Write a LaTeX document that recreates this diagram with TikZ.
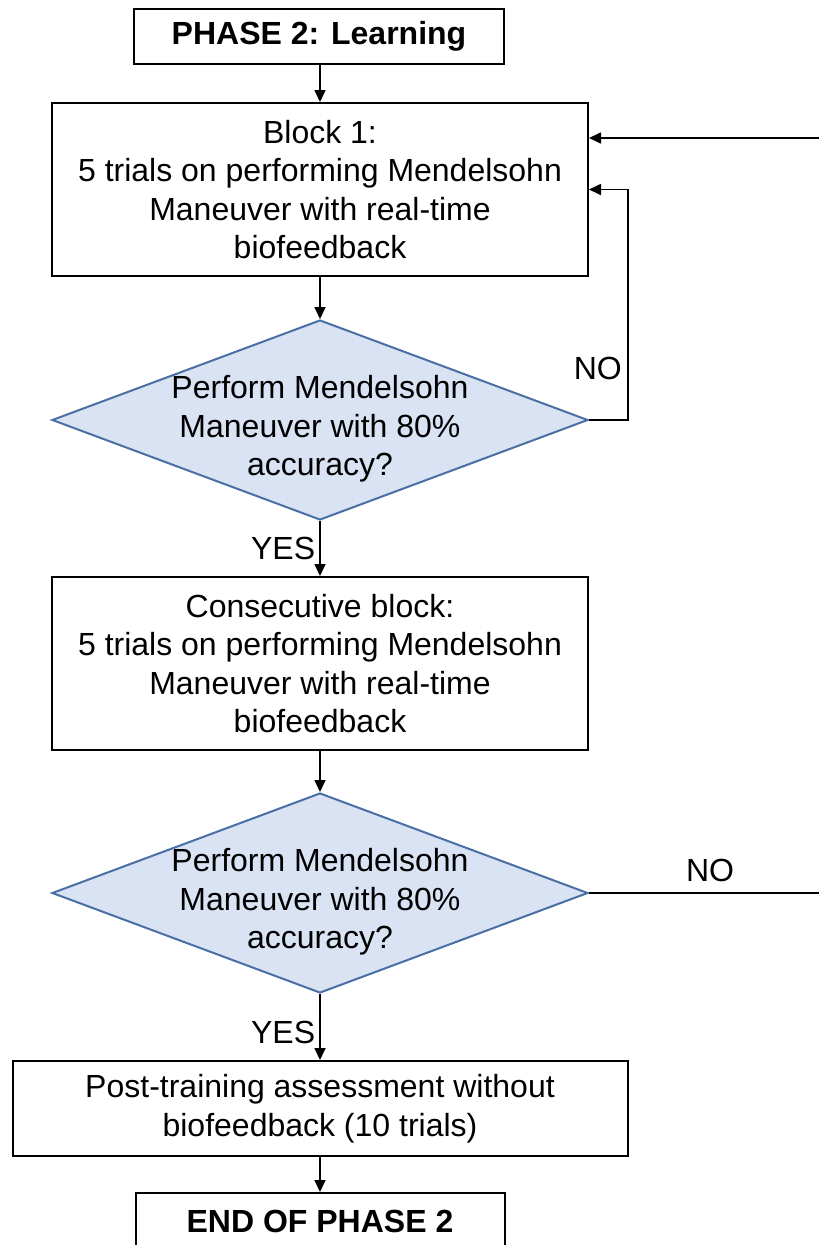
\documentclass[tikz,border=0pt]{standalone}
\usepackage{fontspec}
\setmainfont{Liberation Sans}
\usetikzlibrary{arrows.meta,shapes.geometric}
\definecolor{diafill}{HTML}{DAE3F3}
\definecolor{diaedge}{HTML}{4A6FA5}
\tikzset{
  every node/.style={font=\fontsize{32}{38.5}\selectfont, text=black},
  procbox/.style={draw=black, line width=2pt, rectangle, inner sep=0pt, align=center},
  decision/.style={shape=diamond, draw=diaedge, fill=diafill, line width=2pt, inner sep=0pt, minimum width=536pt, minimum height=200pt},
  dtext/.style={align=center, inner sep=0pt},
  conn/.style={draw=black, line width=1.7pt, -{Triangle[length=12pt,width=11pt]}},
  lbl/.style={inner sep=0pt}
}
\begin{document}
\begin{tikzpicture}[x=1pt,y=-1pt]
\clip (0,0) rectangle (819,1245);
\fill[white] (0,0) rectangle (819,1245);

\node[procbox, minimum width=370pt, minimum height=55pt, font=\fontsize{32}{38.5}\selectfont\bfseries] (top) at (319,36.5) {PHASE 2: Learning};

\node[procbox, minimum width=536pt, minimum height=173pt] (b1) at (320,189.5)
  {Block 1:\\5 trials on performing Mendelsohn\\Maneuver with real-time\\biofeedback};

\node[decision] (d1) at (320,420) {};
\node[dtext] (d1text) at (320,429) {Perform Mendelsohn\\Maneuver with 80\%\\accuracy?};

\node[procbox, minimum width=536pt, minimum height=173pt] (b2) at (320,663.5)
  {Consecutive block:\\5 trials on performing Mendelsohn\\Maneuver with real-time\\biofeedback};

\node[decision] (d2) at (320,893) {};
\node[dtext] (d2text) at (320,902) {Perform Mendelsohn\\Maneuver with 80\%\\accuracy?};

\node[procbox, minimum width=615pt, minimum height=95pt] (b3) at (320,1108.5)
  {Post-training assessment without\\biofeedback (10 trials)};

\node[procbox, minimum width=369pt, minimum height=56pt, font=\fontsize{32}{38.5}\selectfont\bfseries] (endb) at (320,1221)
  {END OF PHASE 2};

% main flow
\draw[conn] (top.south -| b1.north) -- (b1.north);
\draw[conn] (b1.south) -- (d1.north);
\draw[conn] (d1.south) -- node[lbl, anchor=east, xshift=-4pt] (yes1) {YES} (b2.north);
\draw[conn] (b2.south) -- (d2.north);
\draw[conn] (d2.south) -- node[lbl, anchor=east, xshift=-4pt, pos=0.58] (yes2) {YES} (b3.north);
\draw[conn] (b3.south) -- (endb.north);

% inner loop (NO)
\coordinate (c1) at (628,420);
\draw[conn] (d1.east) -- (c1) |- (b1.east);
\node[lbl, anchor=east] (no1) at (622,368) {NO};

% outer loop (NO), runs off the right edge
\coordinate (c2) at (840,893);
\coordinate (c3) at (840,138);
\draw[conn] (d2.east) -- (c2) -- (c3) -- (b1.east |- c3);
\node[lbl] (no2) at (710,870) {NO};
\end{tikzpicture}
\end{document}
